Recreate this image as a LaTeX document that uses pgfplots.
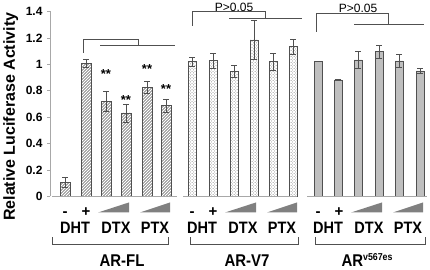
\documentclass[border=0pt]{standalone}
\usepackage{pgfplots}
\pgfplotsset{compat=1.18}
\usepackage{fontspec}
\setmainfont{Liberation Sans}
\usetikzlibrary{patterns,calc}
\definecolor{ln}{HTML}{505050}
\definecolor{ax}{HTML}{A8A8A8}
\tikzset{
  ast/.style={anchor=base, inner sep=0pt, font=\fontsize{13}{13}\selectfont\bfseries},
  pm/.style={anchor=base, inner sep=0pt, font=\fontsize{15}{15}\selectfont\bfseries},
  drug/.style={anchor=base, inner sep=0pt, xscale=0.88, font=\fontsize{16.5}{16.5}\selectfont\bfseries},
  grp/.style={anchor=base, inner sep=0pt, xscale=0.88, font=\fontsize{17}{17}\selectfont\bfseries},
  pv/.style={anchor=base, inner sep=0pt, font=\fontsize{12}{12}\selectfont},
}
\newcommand{\treat}[1]{%
  \node[pm] at (axis cs:{65+#1},-0.150) {-};
  \node[pm] at (axis cs:{86+#1},-0.150) {+};
  \fill[gray] (axis cs:{98+#1},-0.121) -- (axis cs:{129+#1},-0.121) -- (axis cs:{129+#1},-0.045) -- cycle;
  \fill[gray] (axis cs:{140+#1},-0.121) -- (axis cs:{170+#1},-0.121) -- (axis cs:{170+#1},-0.045) -- cycle;
  \node[drug] at (axis cs:{75+#1},-0.280) {DHT};
  \node[drug] at (axis cs:{116+#1},-0.280) {DTX};
  \node[drug] at (axis cs:{155+#1},-0.280) {PTX};
}
\begin{document}
\begin{tikzpicture}
\begin{axis}[
  scale only axis, width=378pt, height=185pt,
  xmin=50, xmax=428, ymin=0, ymax=1.4,
  clip=false,
  axis x line=none,
  axis y line*=left,
  y axis line style={ax, line width=0.8pt},
  ytick={0,0.2,0.4,0.6,0.8,1,1.2,1.4},
  tick align=outside,
  major tick length=3pt,
  tick style={ax, line width=0.8pt},
  /pgf/number format/assume math mode=true,
  yticklabel style={font=\fontsize{12}{12}\selectfont\bfseries, xshift=-1pt},
  ylabel={Relative Luciferase Activity},
  ylabel style={font=\fontsize{16}{16}\selectfont\bfseries, at={(rel axis cs:-0.093,0.431)}, anchor=base},
  error bars/error bar style={ln, line width=0.7pt},
  error bars/error mark options={ln, line width=0.7pt, mark size=3pt, rotate=90},
]
% AR-FL
\addplot[ybar, bar width=10pt, bar shift=0pt, draw=ln, line width=0.6pt,
  pattern=north east lines, pattern color=ln,
  error bars/.cd, y dir=both, y explicit]
  coordinates {(65,0.108) +- (0,0.04) (86,1.009) +- (0,0.03) (106,0.719) +- (0,0.076)
  (126,0.632) +- (0,0.068) (147,0.825) +- (0,0.045) (166,0.687) +- (0,0.05)};
% AR-V7
\addplot[ybar, bar width=8pt, bar shift=0pt, draw=ln, line width=0.6pt,
  pattern=crosshatch dots, pattern color=gray,
  error bars/.cd, y dir=both, y explicit]
  coordinates {(192,1.021) +- (0,0.033) (213,1.029) +- (0,0.056) (234,0.946) +- (0,0.048)
  (254,1.185) +- (0,0.146) (273,1.021) +- (0,0.064) (293,1.134) +- (0,0.056)};
% AR v567es
\addplot[ybar, bar width=8pt, bar shift=0pt, draw=ln, line width=0.6pt,
  fill=gray!50,
  error bars/.cd, y dir=both, y explicit]
  coordinates {(318,1.021) +- (0,0) (338,0.883) +- (0,0) (358,1.034) +- (0,0.063)
  (379,1.097) +- (0,0.048) (399,1.026) +- (0,0.046) (420,0.951) +- (0,0.02)};

\coordinate (sw) at (rel axis cs:0,0);
\coordinate (ne) at (rel axis cs:1,1);

% x axis segments
\draw[ax, line width=0.8pt] (axis cs:52,0) -- (axis cs:177,0);
\draw[ax, line width=0.8pt] (axis cs:183,0) -- (axis cs:297,0);
\draw[ax, line width=0.8pt] (axis cs:307,0) -- (axis cs:427,0);

% significance brackets
\draw[ln, line width=0.8pt] (axis cs:83,1.087) -- (axis cs:83,1.192) -- (axis cs:138,1.192) -- (axis cs:138,1.140);
\draw[ln, line width=0.8pt] (axis cs:100,1.140) -- (axis cs:175,1.140);
\draw[ln, line width=0.8pt] (axis cs:192,1.291) -- (axis cs:192,1.398) -- (axis cs:265,1.398) -- (axis cs:265,1.349);
\draw[ln, line width=0.8pt] (axis cs:229,1.349) -- (axis cs:302,1.349);
\draw[ln, line width=0.8pt] (axis cs:316,1.245) -- (axis cs:316,1.386) -- (axis cs:388,1.386) -- (axis cs:388,1.306);
\draw[ln, line width=0.8pt] (axis cs:354,1.306) -- (axis cs:424,1.306);
\node[pv] at (axis cs:234,1.403) {P>0.05};
\node[pv] at (axis cs:358,1.391) {P>0.05};

% asterisks
\node[ast] at (axis cs:106,0.890) {**};
\node[ast] at (axis cs:126,0.694) {**};
\node[ast] at (axis cs:147,0.928) {**};
\node[ast] at (axis cs:166,0.777) {**};

% treatment labels
\treat{0}
\treat{127}
\treat{253}

% group brackets
\draw[ln, line width=0.8pt] (axis cs:52,-0.310) -- (axis cs:52,-0.360) -- (axis cs:168,-0.360) -- (axis cs:168,-0.310);
\draw[ln, line width=0.8pt] (axis cs:190,-0.310) -- (axis cs:190,-0.360) -- (axis cs:298,-0.360) -- (axis cs:298,-0.310);
\draw[ln, line width=0.8pt] (axis cs:315,-0.310) -- (axis cs:315,-0.360) -- (axis cs:425,-0.360) -- (axis cs:425,-0.310);
\node[grp] at (axis cs:122,-0.530) {AR-FL};
\node[grp] at (axis cs:247,-0.530) {AR-V7};
\node[grp] at (axis cs:367,-0.530) {AR\raisebox{0.7ex}{\fontsize{10}{10}\selectfont\bfseries v567es}};
\end{axis}
\pgfresetboundingbox
\path[use as bounding box] ($(sw)+(-50pt,-73pt)$) rectangle ($(ne)+(2pt,11.5pt)$);
\end{tikzpicture}
\end{document}
